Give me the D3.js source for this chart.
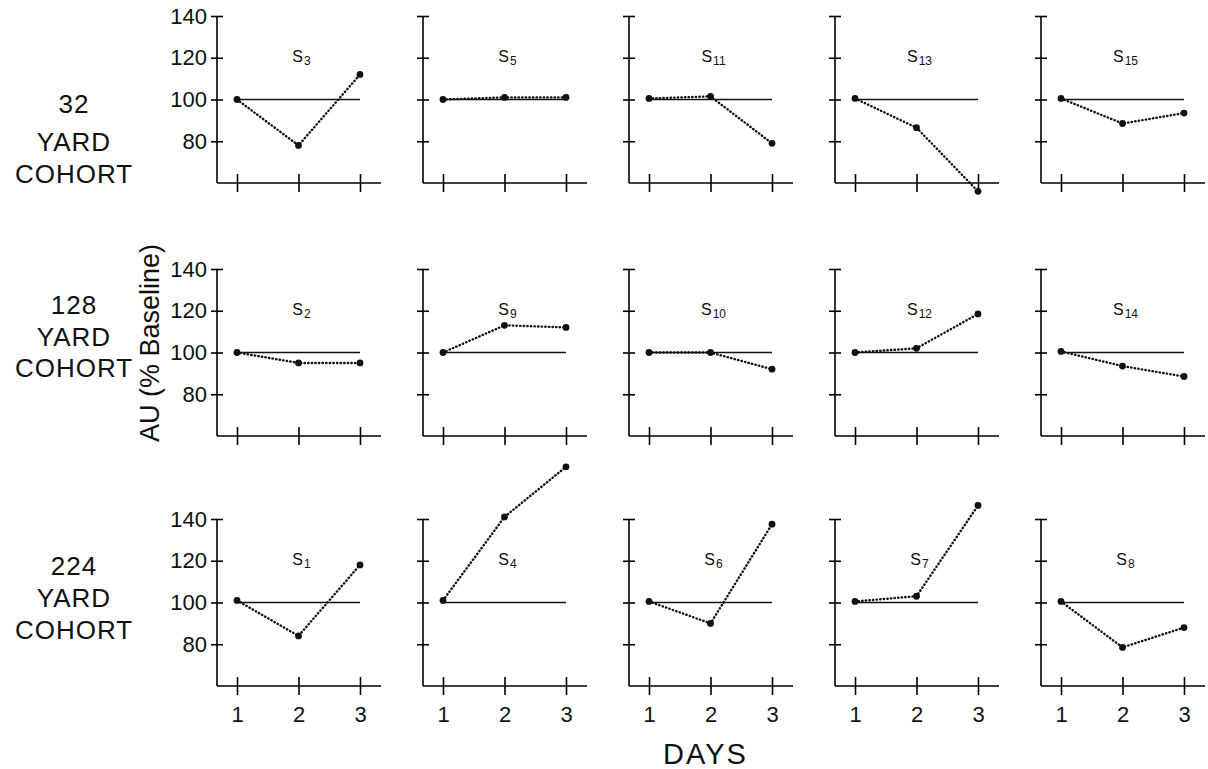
<!DOCTYPE html>
<html>
<head>
<meta charset="utf-8">
<script src="https://cdn.jsdelivr.net/npm/d3@7"></script>
<style>
    body { margin: 0; background: #fff; }
    svg { display: block; font-family: "Liberation Sans", Arial, sans-serif; }
    .tick text { font-size: 22px; fill: #111; }
    .cohort { font-size: 26px; letter-spacing: 1px; fill: #111; }
</style>
</head>
<body>
<div id="chart-area"></div>
<script>
const days = [1, 2, 3];
const yTicks = [80, 100, 120, 140];
const cohortNames = ["32", "128", "224"];
const subjects32 = ["3", "5", "11", "13", "15"];
const subjects128 = ["2", "9", "10", "12", "14"];
const subjects224 = ["1", "4", "6", "7", "8"];
// AU (% baseline) on days 1-3, one row per subject
const values32 = [[100, 78, 112], [100, 101, 101], [100.5, 101.5, 79], [100.5, 86.5, 56], [100.5, 88.5, 93.5]];
const values128 = [[100, 95, 95], [100, 113, 112], [100, 100, 92], [100, 102, 118.5], [100.5, 93.5, 88.5]];
const values224 = [[101, 84, 118], [101, 141, 165], [100.5, 90, 137.5], [100.5, 103, 146.5], [100.5, 78.5, 88]];
const baseline = 100;

const rows = [
    { cohort: cohortNames[0], subjects: subjects32, values: values32 },
    { cohort: cohortNames[1], subjects: subjects128, values: values128 },
    { cohort: cohortNames[2], subjects: subjects224, values: values224 }
];

const width = 1208, height = 769;
const rowBottom = [183, 436, 686];
const rowHeight = 167;
const colLeft = 217, colStep = 206, panelWidth = 164;
// label line centres for the cohort text blocks
const cohortLines = [[104, 142, 174], [305, 337, 368], [566, 598, 630]];

const svg = d3.select('#chart-area').append('svg')
    .attr('width', width)
    .attr('height', height);

const x = d3.scaleLinear().domain([1, 3]).range([20, 143]);

rows.forEach((row, r) => {
    const y = d3.scaleLinear().domain([60, 140]).range([rowHeight, 0]);

    row.values.forEach((vals, c) => {
        const g = svg.append('g')
            .attr('transform', `translate(${colLeft + c * colStep},${rowBottom[r] - rowHeight})`);

        // y axis, ticks crossing the line
        const yAxis = g.append('g')
            .call(d3.axisLeft(y).tickValues(yTicks).tickSize(6).tickSizeOuter(0).tickPadding(4)
                .tickFormat(c === 0 ? d3.format('d') : ''));
        yAxis.select('.domain').attr('stroke-width', 1.6).attr('d', `M0,${y(60)}V${y(140)}`);
        yAxis.selectAll('.tick line').attr('x1', 6).attr('stroke-width', 1.6);

        // x axis
        const xAxis = g.append('g')
            .attr('transform', `translate(0,${rowHeight})`)
            .call(d3.axisBottom(x).tickValues(days).tickSize(9).tickSizeOuter(0).tickPadding(11)
                .tickFormat(r === 2 ? d3.format('d') : ''));
        xAxis.select('.domain').attr('stroke-width', 1.6).attr('d', `M0,0H${panelWidth}`);
        xAxis.selectAll('.tick line').attr('y1', -9).attr('stroke-width', 1.6);

        // solid baseline at 100
        g.append('line')
            .attr('x1', x(days[0]))
            .attr('x2', x(days[days.length - 1]))
            .attr('y1', y(baseline))
            .attr('y2', y(baseline))
            .attr('stroke', '#111')
            .attr('stroke-width', 1.6);

        const line = d3.line().x((d, i) => x(days[i])).y(d => y(d));
        g.append('path')
            .attr('d', line(vals))
            .attr('fill', 'none')
            .attr('stroke', '#111')
            .attr('stroke-width', 2.4)
            .attr('stroke-linecap', 'round')
            .attr('stroke-dasharray', '0.4 3.2');

        g.selectAll('circle')
            .data(vals)
            .enter().append('circle')
            .attr('cx', (d, i) => x(days[i]))
            .attr('cy', d => y(d))
            .attr('r', 3.4)
            .attr('fill', '#111');

        const label = g.append('text')
            .attr('x', x(2) + 3)
            .attr('y', y(118))
            .attr('text-anchor', 'middle')
            .style('font-size', '16px')
            .style('fill', '#111')
            .text('S');
        label.append('tspan')
            .attr('dy', 3)
            .attr('dx', 1)
            .style('font-size', '12px')
            .text(row.subjects[c]);
    });

    const words = [row.cohort, 'YARD', 'COHORT'];
    svg.append('g').selectAll('text')
        .data(words)
        .enter().append('text')
        .attr('class', 'cohort')
        .attr('x', 74)
        .attr('y', (d, i) => cohortLines[r][i])
        .attr('dy', '0.36em')
        .attr('text-anchor', 'middle')
        .text(d => d);
});

svg.append('text')
    .attr('transform', 'translate(149,343) rotate(-90)')
    .attr('text-anchor', 'middle')
    .attr('dy', '0.36em')
    .style('font-size', '27px')
    .style('fill', '#111')
    .text('AU (% Baseline)');

svg.append('text')
    .attr('x', colLeft + 2 * colStep + x(2) - 5)
    .attr('y', 764)
    .attr('text-anchor', 'middle')
    .style('font-size', '29px')
    .style('letter-spacing', '2px')
    .style('fill', '#111')
    .text('DAYS');
</script>
</body>
</html>
